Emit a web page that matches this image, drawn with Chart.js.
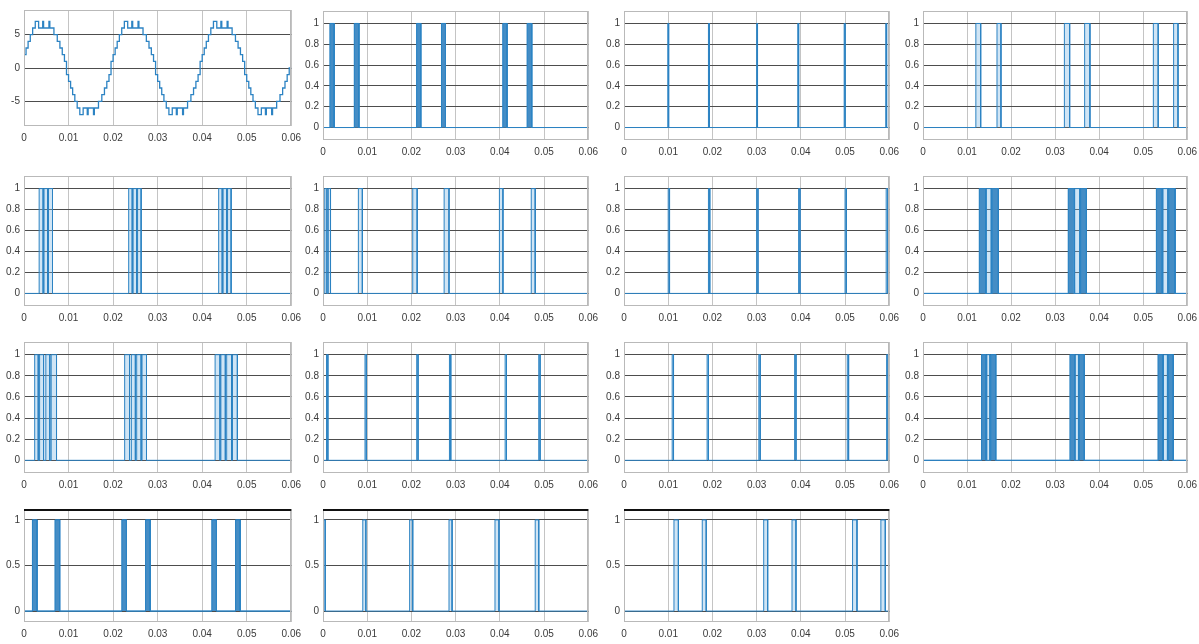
<!DOCTYPE html>
<html>
<head>
<meta charset="utf-8">
<script src="https://cdn.jsdelivr.net/npm/chart.js@4"></script>
<style>
  html, body { margin: 0; padding: 0; background: #fff; overflow: hidden; }
  #wrap { position: relative; width: 1199px; height: 644px; }
  canvas { position: absolute; }
</style>
</head>
<body>
<div id="wrap"></div>
<script>
// tick labels
var xTicks = [0, 0.01, 0.02, 0.03, 0.04, 0.05, 0.06]
var sineTicks = [-5, 0, 5]
var gateTicks = [0, 0.2, 0.4, 0.6, 0.8, 1]
var halfTicks = [0, 0.5, 1]

// stepped output voltage (time, level)
var sineT = [0, 0.00046, 0.00092, 0.00141, 0.00194, 0.00253, 0.00328, 0.00420, 0.00440, 0.00560, 0.00580, 0.00672, 0.00747, 0.00806, 0.00859, 0.00908, 0.00954,
  0.01, 0.01046, 0.01092, 0.01141, 0.01194, 0.01253, 0.01328, 0.01420, 0.01440, 0.01560, 0.01580, 0.01672, 0.01747, 0.01806, 0.01859, 0.01908, 0.01954,
  0.02, 0.02046, 0.02092, 0.02141, 0.02194, 0.02253, 0.02328, 0.02420, 0.02440, 0.02560, 0.02580, 0.02672, 0.02747, 0.02806, 0.02859, 0.02908, 0.02954,
  0.03, 0.03046, 0.03092, 0.03141, 0.03194, 0.03253, 0.03328, 0.03420, 0.03440, 0.03560, 0.03580, 0.03672, 0.03747, 0.03806, 0.03859, 0.03908, 0.03954,
  0.04, 0.04046, 0.04092, 0.04141, 0.04194, 0.04253, 0.04328, 0.04420, 0.04440, 0.04560, 0.04580, 0.04672, 0.04747, 0.04806, 0.04859, 0.04908, 0.04954,
  0.05, 0.05046, 0.05092, 0.05141, 0.05194, 0.05253, 0.05328, 0.05420, 0.05440, 0.05560, 0.05580, 0.05672, 0.05747, 0.05806, 0.05859, 0.05908, 0.05954, 0.06]
var sineV = [1, 2, 3, 4, 5, 6, 7, 6, 7, 6, 7, 6, 5, 4, 3, 2, 1,
  -1, -2, -3, -4, -5, -6, -7, -6, -7, -6, -7, -6, -5, -4, -3, -2, -1,
  1, 2, 3, 4, 5, 6, 7, 6, 7, 6, 7, 6, 5, 4, 3, 2, 1,
  -1, -2, -3, -4, -5, -6, -7, -6, -7, -6, -7, -6, -5, -4, -3, -2, -1,
  1, 2, 3, 4, 5, 6, 7, 6, 7, 6, 7, 6, 5, 4, 3, 2, 1,
  -1, -2, -3, -4, -5, -6, -7, -6, -7, -6, -7, -6, -5, -4, -3, -2, -1, 0]

// gate signals: [on, off, on, off, ...]  (g = single pulses, b = dense switching bursts)
var g1 = [], b1 = [0.0016, 0.0025, 0.0071, 0.0081, 0.0212, 0.0221, 0.0268, 0.0277, 0.0407, 0.0416, 0.0462, 0.0472]
var g2 = [0.0099, 0.0101, 0.0191, 0.0193, 0.0300, 0.0302, 0.0393, 0.0395, 0.0498, 0.0500, 0.0592, 0.0594], b2 = []
var g3 = [0.0120, 0.0131, 0.0168, 0.0177, 0.0321, 0.0333, 0.0367, 0.0379, 0.0523, 0.0534, 0.0569, 0.0579], b3 = []
var g4 = [0.0034, 0.0043, 0.0045, 0.0053, 0.0055, 0.0064, 0.0235, 0.0243, 0.0245, 0.0253, 0.0255, 0.0263, 0.0437, 0.0445, 0.0447, 0.0455, 0.0457, 0.0465], b4 = []
var g5 = [0.0004, 0.0009, 0.0012, 0.0017, 0.0080, 0.0089, 0.0203, 0.0213, 0.0274, 0.0285, 0.0399, 0.0407, 0.0471, 0.0480], b5 = []
var g6 = [0.0100, 0.0103, 0.0191, 0.0194, 0.0300, 0.0303, 0.0395, 0.0398, 0.0500, 0.0503, 0.0593, 0.0596], b6 = []
var g7 = [0.0144, 0.0155, 0.0345, 0.0356, 0.0545, 0.0556], b7 = [0.0128, 0.0142, 0.0157, 0.0171, 0.0330, 0.0343, 0.0358, 0.0371, 0.0530, 0.0543, 0.0558, 0.0572]
var g8 = [0.0024, 0.0032, 0.0035, 0.0044, 0.0049, 0.0058, 0.0061, 0.0073, 0.0226, 0.0237, 0.0241, 0.0250, 0.0253, 0.0263, 0.0265, 0.0275, 0.0429, 0.0440, 0.0442, 0.0452, 0.0455, 0.0466, 0.0468, 0.0479], b8 = []
var g9 = [0.0008, 0.0011, 0.0095, 0.0098, 0.0212, 0.0215, 0.0286, 0.0289, 0.0412, 0.0415, 0.0488, 0.0491], b9 = []
var g10 = [0.0109, 0.0112, 0.0188, 0.0191, 0.0305, 0.0308, 0.0386, 0.0389, 0.0505, 0.0508, 0.0594, 0.0597], b10 = []
var g11 = [0.0145, 0.0152, 0.0346, 0.0353, 0.0546, 0.0555], b11 = [0.0133, 0.0143, 0.0154, 0.0165, 0.0334, 0.0344, 0.0355, 0.0366, 0.0534, 0.0544, 0.0557, 0.0568]
var g12 = [], b12 = [0.0019, 0.0029, 0.0070, 0.0080, 0.0220, 0.0230, 0.0273, 0.0283, 0.0422, 0.0432, 0.0475, 0.0485]
var g13 = [0.0001, 0.0005, 0.0090, 0.0097, 0.0196, 0.0203, 0.0285, 0.0292, 0.0389, 0.0398, 0.0480, 0.0488], b13 = []
var g14 = [0.0113, 0.0123, 0.0177, 0.0186, 0.0316, 0.0325, 0.0380, 0.0389, 0.0517, 0.0527, 0.0581, 0.0591], b14 = []

var gates = [[g1, b1], [g2, b2], [g3, b3], [g4, b4], [g5, b5], [g6, b6], [g7, b7], [g8, b8], [g9, b9], [g10, b10], [g11, b11], [g12, b12], [g13, b13], [g14, b14]]

// plot boxes (pixel layout)
var cols = [[24, 293], [323, 590], [624, 891], [923, 1189]]
var rows = [[9, 140], [174, 306], [340, 473], [507, 622]]
var sineBox = [8, 126]

var LINE = '#2c83c3'
var PULSE_FILL = 'rgba(120,180,226,0.35)'
var BURST_FILL = '#2a78b6'

function toPoints(edges) {
    var pts = [{ x: 0, y: 0 }]
    for (var i = 0; i < edges.length; i += 2) {
        pts.push({ x: edges[i], y: 0 }, { x: edges[i], y: 1 }, { x: edges[i + 1], y: 1 }, { x: edges[i + 1], y: 0 })
    }
    pts.push({ x: 0.06, y: 0 })
    return pts
}

function mergeEdges(a, b) {
    var pairs = []
    for (var i = 0; i < a.length; i += 2) pairs.push([a[i], a[i + 1]])
    for (var j = 0; j < b.length; j += 2) pairs.push([b[j], b[j + 1]])
    pairs.sort(function (p, q) { return p[0] - q[0] })
    var out = []
    pairs.forEach(function (p) { out.push(p[0], p[1]) })
    return out
}

var boxPlugin = {
    id: 'box',
    afterDraw: function (chart, args, opts) {
        var a = chart.chartArea, c = chart.ctx
        c.save()
        c.strokeStyle = '#b9b9b9'
        c.lineWidth = 1
        c.strokeRect(Math.round(a.left) + 0.5, Math.round(a.top) + 0.5, Math.round(a.right - a.left) - 1, Math.round(a.bottom - a.top) - 1)
        if (opts.darkTop) {
            c.strokeStyle = '#111'
            c.lineWidth = 2
            c.beginPath()
            c.moveTo(a.left, Math.round(a.top) + 1)
            c.lineTo(a.right, Math.round(a.top) + 1)
            c.stroke()
        }
        c.restore()
    }
}

var PAD_L = 34, PAD_T = 8, PAD_R = 14, PAD_B = 22
var wrap = document.getElementById('wrap')

function makePanel(col, rowBox, datasets, yMin, yMax, yTicks, darkTop) {
    var left = cols[col][0], right = cols[col][1]
    var top = rowBox[0], bottom = rowBox[1]
    var cv = document.createElement('canvas')
    var w = right - left + PAD_L + PAD_R, h = bottom - top + PAD_T + PAD_B
    cv.width = w; cv.height = h
    cv.style.left = (left - PAD_L) + 'px'
    cv.style.top = (top - PAD_T) + 'px'
    cv.style.width = w + 'px'; cv.style.height = h + 'px'
    wrap.appendChild(cv)

    new Chart(cv.getContext('2d'), {
        type: 'line',
        data: { datasets: datasets },
        plugins: [boxPlugin],
        options: {
            responsive: false,
            animation: false,
            layout: { padding: { top: PAD_T, right: PAD_R, left: 0, bottom: 0 } },
            elements: { point: { radius: 0 }, line: { tension: 0, borderWidth: 1 } },
            plugins: { legend: { display: false }, tooltip: { enabled: false }, box: { darkTop: darkTop } },
            scales: {
                x: {
                    type: 'linear', min: 0, max: 0.06,
                    afterBuildTicks: function (s) { s.ticks = xTicks.map(function (v) { return { value: v } }) },
                    afterFit: function (s) { s.height = PAD_B },
                    grid: { color: '#c4c4c4', drawTicks: false },
                    border: { display: false },
                    ticks: {
                        autoSkip: false, maxRotation: 0, padding: 6, color: '#3a3a3a',
                        font: { family: 'Liberation Sans', size: 10 },
                        callback: function (v) { return String(+v.toFixed(2)) }
                    }
                },
                y: {
                    min: yMin, max: yMax,
                    afterBuildTicks: function (s) { s.ticks = yTicks.map(function (v) { return { value: v } }) },
                    afterFit: function (s) { s.width = PAD_L },
                    grid: { color: '#4d4d4d', drawTicks: false },
                    border: { display: false },
                    ticks: {
                        padding: 4, color: '#3a3a3a',
                        font: { family: 'Liberation Sans', size: 10 },
                        callback: function (v) { return String(+v.toFixed(2)) }
                    }
                }
            }
        }
    })
}

// output voltage panel
var sinePts = sineT.map(function (t, i) { return { x: t, y: sineV[i] } })
makePanel(0, sineBox, [{ data: sinePts, borderColor: LINE, borderWidth: 1.3, stepped: 'after', fill: false }], -8.7, 8.7, sineTicks, false)

// gate panels
gates.forEach(function (g, i) {
    var slot = i + 1
    var col = slot % 4, row = Math.floor(slot / 4)
    var ds = [{ data: toPoints(mergeEdges(g[0], g[1])), borderColor: LINE, backgroundColor: PULSE_FILL, fill: 'origin' }]
    if (g[1].length) {
        ds.push({ data: toPoints(g[1]), borderColor: LINE, backgroundColor: BURST_FILL, fill: 'origin' })
    }
    makePanel(col, rows[row], ds, -0.12, 1.12, row === 3 ? halfTicks : gateTicks, row === 3)
})
</script>
</body>
</html>
